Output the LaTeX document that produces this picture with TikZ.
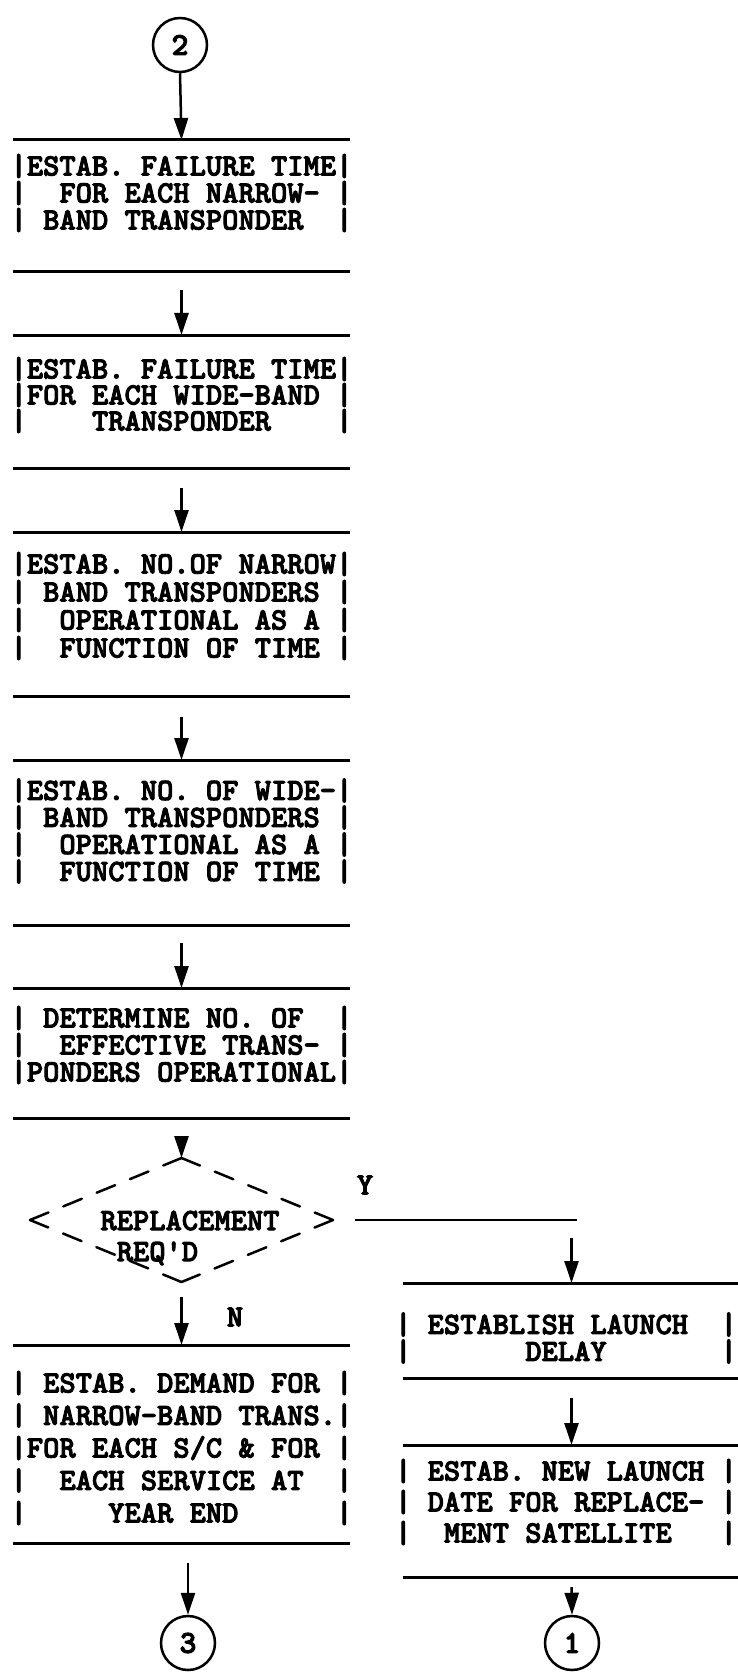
\documentclass[tikz,border=0pt]{standalone}
\usepackage{fontspec}
\newfontfamily\twfont{lmmonolt10-bold}[Extension=.otf, FakeBold=3]
\usetikzlibrary{arrows.meta,shapes.geometric}
\begin{document}
\frenchspacing
\setlength{\lineskiplimit}{-100pt}
\setlength{\lineskip}{0pt}
\begin{tikzpicture}[x=1pt,y=-1pt,
  bline/.style={line width=3pt,-},
  hbox/.style={rectangle, minimum width=337pt, minimum height=#1, inner sep=0pt, outer sep=0pt,
    append after command={(\tikzlastnode.north west) edge[bline] (\tikzlastnode.north east)
                          (\tikzlastnode.south west) edge[bline] (\tikzlastnode.south east)}},
  txt/.style={font=\twfont\fontsize{31}{#1}\selectfont, align=center, inner sep=0pt},
  lbl/.style={font=\twfont\fontsize{31}{31}\selectfont, inner sep=0pt},
  conn/.style={circle, draw, line width=2.5pt, minimum size=54pt, inner sep=0pt,
    font=\twfont\fontsize{32}{32}\selectfont},
  arr/.style={line width=2.5pt, -{Triangle[length=22pt,width=14pt]}},
  plain/.style={line width=2.5pt},
  dline/.style={line width=2.5pt, dash pattern=on 20pt off 16pt, line cap=round},
  dec/.style={diamond, minimum width=303pt, minimum height=124pt, inner sep=0pt, outer sep=0pt}
]
\fill[white] (0,0) rectangle (737,1677);
\useasboundingbox (0,0) rectangle (737,1677);

% left column
\node[conn] (c2) at (180,45) {2};

\node[hbox=132pt] (b1) at (181.5,206) {};
\node[txt=27pt] (t1) at (181.5,193) {|ESTAB.~FAILURE~TIME|\\|~~FOR~EACH~NARROW-~|\\|~BAND~TRANSPONDER~~|};

\node[hbox=133pt] (b2) at (181.5,401.5) {};
\node[txt=26pt] (t2) at (181.5,395) {|ESTAB.~FAILURE~TIME|\\|FOR~EACH~WIDE-BAND~|\\|~~~~TRANSPONDER~~~~|};

\node[hbox=164pt] (b3) at (181.5,614) {};
\node[txt=28pt] (t3) at (181.5,606) {|ESTAB.~NO.OF~NARROW|\\|~BAND~TRANSPONDERS~|\\|~~OPERATIONAL~AS~A~|\\|~~FUNCTION~OF~TIME~|};

\node[hbox=165pt] (b4) at (181.5,842.5) {};
\node[txt=27pt] (t4) at (181.5,831) {|ESTAB.~NO.~OF~WIDE-|\\|~BAND~TRANSPONDERS~|\\|~~OPERATIONAL~AS~A~|\\|~~FUNCTION~OF~TIME~|};

\node[hbox=130pt] (b5) at (181.5,1053) {};
\node[txt=27pt] (t5) at (181.5,1045) {|~DETERMINE~NO.~OF~~|\\|~~EFFECTIVE~TRANS-~|\\|PONDERS~OPERATIONAL|};

\node[dec] (d) at (181.5,1220) {};
\node[lbl, align=left] (dt) at (190,1238) {REPLACEMENT\\~REQ\textquotesingle D};

\node[hbox=198pt] (b6) at (181.5,1444) {};
\node[txt=32.5pt] (t6) at (181.5,1448) {|~ESTAB.~DEMAND~FOR~|\\|~NARROW-BAND~TRANS.|\\|FOR~EACH~S/C~\&~FOR~|\\|~~EACH~SERVICE~AT~~|\\|~~~~~YEAR~END~~~~~~|};

\node[conn] (c3) at (188,1643) {3};

% right column
\node[hbox=95pt] (rb1) at (571.5,1330.5) {};
\node[txt=27pt] (r1) at (566,1338) {|~ESTABLISH~LAUNCH~~|\\|~~~~~~~DELAY~~~~~~~|};

\node[hbox=132pt] (rb2) at (571.5,1511) {};
\node[txt=31pt] (r2) at (566,1502) {|~ESTAB.~NEW~LAUNCH~|\\|~DATE~FOR~REPLACE-~|\\|~~MENT~SATELLITE~~~|};

\node[conn] (c1) at (572,1643) {1};

% branch labels
\node[lbl] (ly) at (365,1185) {Y};
\node[lbl] (ln) at (235,1317) {N};
\coordinate (yend) at (577,1220);
\coordinate (ydown) at (571.5,1238);

% diamond outline (dashed)
\draw[dline] (d.north) -- (d.east);
\draw[dline] (d.east) -- (d.south);
\draw[dline] (d.south) -- (d.west);
\draw[dline] (d.west) -- (d.north);

% connectors
\draw[arr] (c2.south) -- (b1.north);
\draw[arr, shorten <=18pt] (b1.south) -- (b2.north);
\draw[arr, shorten <=20pt] (b2.south) -- (b3.north);
\draw[arr, shorten <=21pt] (b3.south) -- (b4.north);
\draw[arr, shorten <=18pt] (b4.south) -- (b5.north);
\draw[arr, shorten <=20pt] (b5.south) -- (d.north);
\draw[plain] ([xshift=22pt]d.east) -- (yend);
\draw[arr] (ydown) -- (rb1.north);
\draw[arr, shorten <=15pt] (d.south) -- (b6.north);
\draw[arr, shorten <=20pt] (b6.south -| c3.north) -- (c3.north);
\draw[arr, shorten <=20pt] (rb1.south) -- (rb2.north);
\draw[arr, shorten <=10pt] (rb2.south) -- (c1.north);
\end{tikzpicture}
\end{document}
